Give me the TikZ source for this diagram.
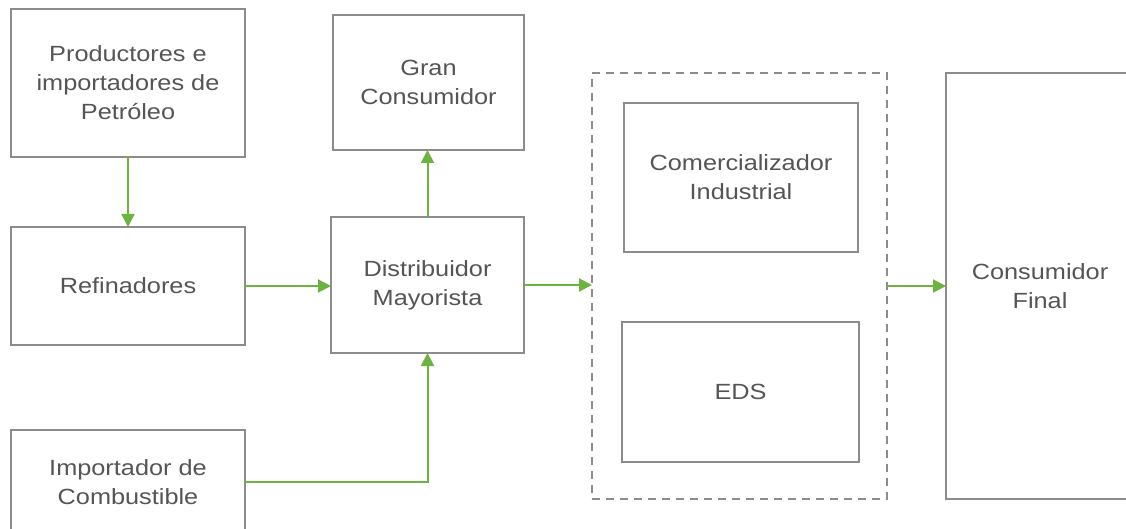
\documentclass[tikz,border=0pt]{standalone}
\usepackage{fontspec}
\setmainfont[FakeStretch=1.15]{Liberation Sans}
\usetikzlibrary{arrows.meta}
\definecolor{boxgray}{HTML}{8C8C8C}
\definecolor{txtgray}{HTML}{555555}
\definecolor{arrgreen}{HTML}{6DB33F}
\tikzset{
  box/.style={draw=boxgray, line width=2pt, text=txtgray, align=center, inner sep=0pt, outer sep=0pt,
    font=\fontsize{22}{29}\selectfont},
  groupbox/.style={draw=boxgray, line width=2pt, dash pattern=on 8pt off 6pt, inner sep=0pt, outer sep=0pt},
  arr/.style={draw=arrgreen, line width=2pt, -{Triangle[length=13pt,width=13pt]}}
}
\begin{document}
\begin{tikzpicture}[x=1pt,y=-1pt]
\useasboundingbox (0,0) rectangle (1126,529);
\fill[white] (0,0) rectangle (1126,529);
\clip (0,0) rectangle (1126,529);
\node[box, minimum width=234pt, minimum height=148pt] (A) at (128,83) {Productores e\\importadores de\\Petróleo};
\node[box, minimum width=234pt, minimum height=118pt] (B) at (128,286) {Refinadores};
\node[box, minimum width=234pt, minimum height=104pt] (C) at (128,482) {Importador de\\Combustible};
\node[box, minimum width=193pt, minimum height=136pt] (D) at (427.5,285) {Distribuidor\\Mayorista};
\node[box, minimum width=191pt, minimum height=135pt] (G) at (428.5,82.5) {Gran\\Consumidor};
\node[groupbox, minimum width=295pt, minimum height=426pt] (S) at (739.5,286) {};
\node[box, minimum width=234pt, minimum height=149pt] (CI) at (741,177.5) {Comercializador\\Industrial};
\node[box, minimum width=237pt, minimum height=140pt] (E) at (740.5,392) {EDS};
\node[box, minimum width=188pt, minimum height=426pt] (F) at (1040,286) {Consumidor\\Final};
\draw[arr] (A) -- (B);
\draw[arr] (B.east) -- (B.east -| D.west);
\draw[arr] (D.north) -- (D.north |- G.south);
\draw[arr] (C.east) -| (D.south);
\draw[arr] (D.east) -- (D.east -| S.west);
\draw[arr] (S.east) -- (F.west);
\end{tikzpicture}
\end{document}
